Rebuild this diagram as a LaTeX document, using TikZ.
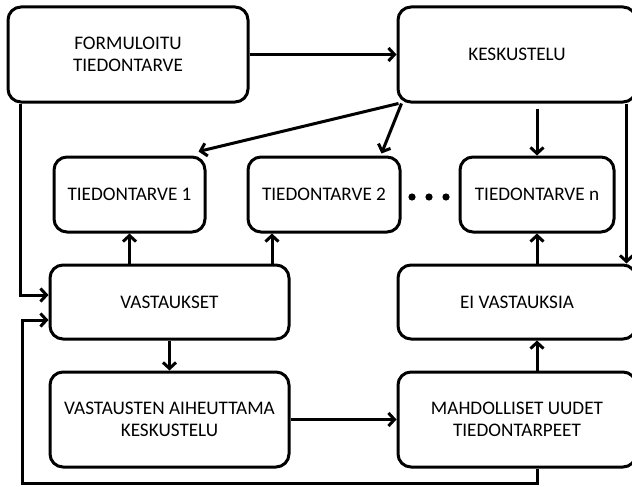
\documentclass[tikz,border=0pt]{standalone}
\usepackage{fontspec}
\setmainfont{Carlito}
\usetikzlibrary{arrows.meta}
\begin{document}
\begin{tikzpicture}[x=1pt,y=-1pt,
  box/.style={draw=black, line width=3pt, rounded corners=13pt, fill=white, align=center, font=\fontsize{19.2}{22.5}\selectfont, inner sep=0pt},
  arr/.style={draw=black, line width=3pt, -{Straight Barb[length=6pt,width=13pt]}},
  ln/.style={draw=black, line width=3pt}]
\clip (0,0) rectangle (632,487);
\fill[white] (0,0) rectangle (632,487);
\node[box, minimum width=240pt, minimum height=95pt] (F) at (128,54.5) {FORMULOITU\\TIEDONTARVE};
\node[box, minimum width=238pt, minimum height=95pt] (K) at (517,54.5) {KESKUSTELU};
\node[box, minimum width=151pt, minimum height=75pt] (T1) at (129.5,194.5) {TIEDONTARVE 1};
\node[box, minimum width=152pt, minimum height=75pt] (T2) at (324,194.5) {TIEDONTARVE 2};
\node[box, minimum width=154pt, minimum height=75pt] (Tn) at (537,194.5) {TIEDONTARVE n};
\node[box, minimum width=239pt, minimum height=74pt] (V) at (169.5,302) {VASTAUKSET};
\node[box, minimum width=238pt, minimum height=74pt] (E) at (517,302) {EI VASTAUKSIA};
\node[box, minimum width=239pt, minimum height=95pt] (VA) at (169.5,419.5) {VASTAUSTEN AIHEUTTAMA\\KESKUSTELU};
\node[box, minimum width=238pt, minimum height=95pt] (M) at (517,419.5) {MAHDOLLISET UUDET\\TIEDONTARPEET};
\foreach \dx/\n in {412/d1,429/d2,446/d3} \fill (\dx,197) circle (3.6pt) coordinate (\n);
\coordinate (bl) at (22,483);
\coordinate (t2a) at ([xshift=-52pt]T2.south);
\draw[arr] (F.east) -- (K.west);
\draw[arr] ([xshift=2pt]K.south west) -- ([xshift=-8pt,yshift=4pt]T1.north east);
\draw[arr] ([xshift=5pt]K.south west) -- ([xshift=-20pt,yshift=2pt]T2.north east);
\draw[arr] ([yshift=-5pt]K.south -| Tn.north) -- (Tn.north);
\draw[arr] ([xshift=-11pt]K.south east) -- ([xshift=-11pt]E.north east);
\draw[arr] ([xshift=14pt]F.south west) |- ([yshift=7pt]V.west);
\draw[arr] (V.north -| T1.south) -- (T1.south);
\draw[arr] (V.north -| t2a) -- (t2a);
\draw[arr] (V.south) -- (VA.north);
\draw[arr] (VA.east) -- (M.west);
\draw[arr] (E.north -| Tn.south) -- (Tn.south);
\draw[arr] (M.north -| Tn.south) -- (E.south -| Tn.south);
\draw[arr] (M.south -| Tn.south) |- (bl) |- ([yshift=-18pt]V.west);
\end{tikzpicture}
\end{document}
